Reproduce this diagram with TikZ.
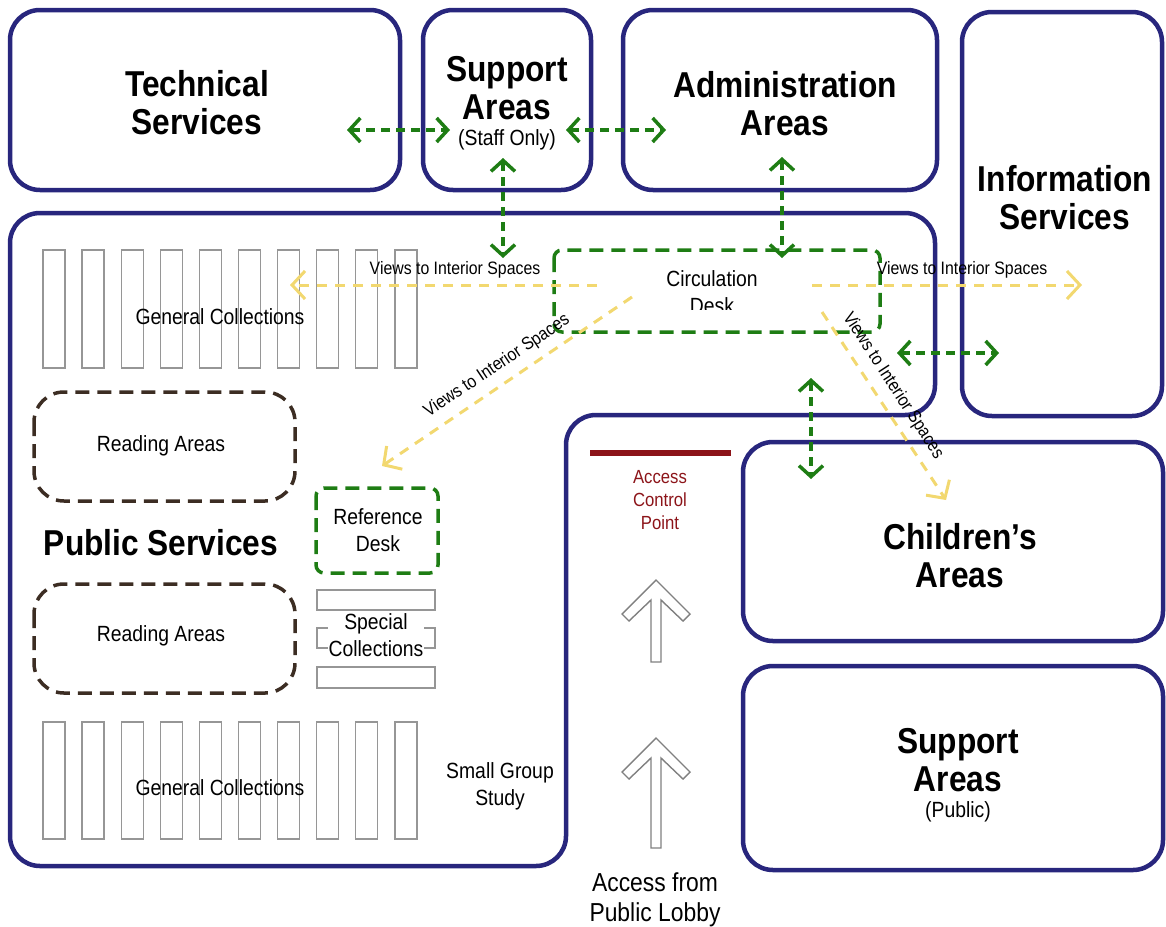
\documentclass[tikz,border=0pt]{standalone}
\usepackage{fontspec}
\setmainfont{Liberation Sans}[FakeStretch=0.88]
\usetikzlibrary{arrows.meta}
\definecolor{navy}{RGB}{40,38,125}
\definecolor{dgreen}{RGB}{30,125,20}
\definecolor{yel}{RGB}{242,216,112}
\definecolor{brn}{RGB}{60,45,35}
\definecolor{shelfgray}{RGB}{150,150,150}
\definecolor{dred}{RGB}{140,20,25}
\begin{document}
\begin{tikzpicture}[x=1pt,y=-1pt,
 zone/.style={draw=navy,line width=4.5pt,rounded corners=30pt},
 bigtxt/.style={font=\fontsize{36}{38}\selectfont\bfseries,align=center,inner sep=0pt},
 txt/.style={font=\fontsize{22}{27}\selectfont,align=center,inner sep=0pt},
 viewtxt/.style={font=\fontsize{18}{20}\selectfont,inner sep=0pt},
 shelf/.style={draw=shelfgray,line width=1.3pt},
 greenlink/.style={draw=dgreen,line width=3.5pt,dash pattern=on 9pt off 6pt,{Straight Barb[length=11pt,width=24pt]}-{Straight Barb[length=11pt,width=24pt]}},
 view/.style={draw=yel,line width=3pt,dash pattern=on 10pt off 8pt,-{Straight Barb[length=13pt,width=28pt]}},
 deskbox/.style={draw=dgreen,line width=3.5pt,dash pattern=on 14pt off 8pt,rounded corners=8pt},
 reading/.style={draw=brn,line width=3.5pt,dash pattern=on 14pt off 8pt,rounded corners=30pt},
 hollow/.style={draw=gray,line width=1.4pt,line join=miter},
 ]
\useasboundingbox (0,0) rectangle (1166,926);

% zones
\draw[zone] (10,10) rectangle (400,190);
\draw[zone] (423,10) rectangle (591,190);
\draw[zone] (623,10) rectangle (937,190);
\draw[zone] (962,12) rectangle (1162,416);
\draw[zone] (10,213) -- (935,213) -- (935,415) -- (566,415) -- (566,866) -- (10,866) -- cycle;
\draw[zone] (743,442) rectangle (1163,641);
\draw[zone] (743,666) rectangle (1163,870);

% shelves
\foreach \i in {0,...,9} {
  \draw[shelf] ({43+39.1*\i},250) rectangle ++(22,118);
  \draw[shelf] ({43+39.1*\i},722) rectangle ++(22,117);
}
\draw[shelf] (317,590) rectangle (435,610);
\draw[shelf] (317,628) rectangle (435,648);
\draw[shelf] (317,667) rectangle (435,688);

% dashed areas
\draw[reading] (34,392) rectangle (295,501);
\draw[reading] (34,584) rectangle (295,693);
\draw[deskbox] (316,488) rectangle (438,573);
\draw[deskbox] (554,250) rectangle (880,332);

% access control
\draw[dred,line width=6pt] (590,453) -- (731,453);
\draw[hollow] (656,580) -- (690,614) -- (683,621) -- (661,600) -- (661,662) -- (651,662) -- (651,600) -- (629,621) -- (622,614) -- cycle;
\draw[hollow] (656,738) -- (690,772) -- (683,779) -- (661,758) -- (661,848) -- (651,848) -- (651,758) -- (629,779) -- (622,772) -- cycle;

% texts
\node[bigtxt] (tech) at (197,103) {Technical\\Services};
\node[bigtxt] (sup) at (507,88) {Support\\Areas};
\node[txt] (staff) at (507,140) {(Staff Only)};
\node[bigtxt] (admin) at (785,104) {Administration\\Areas};
\node[bigtxt] (info) at (1065,198) {Information\\Services};
\node[bigtxt] (pub) at (161,543) {Public Services};
\node[bigtxt] (child) at (960,556) {Children’s\\Areas};
\node[bigtxt] (supp) at (958,760) {Support\\Areas};
\node[txt] (public) at (958,812) {(Public)};
\node[txt] (gc1) at (220,317) {General Collections};
\node[txt] (gc2) at (220,788) {General Collections};
\node[txt] (ra1) at (161,446) {Reading Areas};
\node[txt] (ra2) at (161,636) {Reading Areas};
\node[txt] (ref) at (378,530) {Reference\\Desk};
\node[txt,fill=white,inner sep=1pt] (spec) at (376,635) {Special\\Collections};
\node[txt] (sgs) at (500,786) {Small Group\\Study};
\node[txt,font=\fontsize{19}{23}\selectfont,text=dred] (acp) at (660,500) {Access\\Control\\Point};
\node[txt,font=\fontsize{26}{30}\selectfont] (lobby) at (655,900) {Access from\\Public Lobby};
\begin{scope}
\clip (600,255) rectangle (830,309);
\node[txt] (circ) at (712,292) {Circulation\\Desk};
\end{scope}

% views
\coordinate (v1s) at (597,285); \coordinate (v1e) at (290,285);
\coordinate (v2s) at (812,285); \coordinate (v2e) at (1082,285);
\coordinate (v3s) at (632,297); \coordinate (v3e) at (382,466);
\coordinate (v4s) at (822,312); \coordinate (v4e) at (946,500);
\draw[view] (v1s) -- (v1e);
\draw[view] (v2s) -- (v2e);
\draw[view] (v3s) -- (v3e);
\draw[view] (v4s) -- (v4e);
\node[viewtxt] (vt1) at (455,270) {Views to Interior Spaces};
\node[viewtxt] (vt2) at (962,270) {Views to Interior Spaces};
\node[viewtxt,rotate=33.7] (vt3) at (497,366) {Views to Interior Spaces};
\node[viewtxt,rotate=-57] (vt4) at (893,386) {Views to Interior Spaces};

% green links
\coordinate (g1a) at (347,130); \coordinate (g1b) at (450,130);
\coordinate (g2a) at (566,130); \coordinate (g2b) at (666,130);
\coordinate (g3a) at (503,158); \coordinate (g3b) at (503,258);
\coordinate (g4a) at (782,157); \coordinate (g4b) at (782,258);
\coordinate (g5a) at (897,353); \coordinate (g5b) at (999,353);
\coordinate (g6a) at (811,378); \coordinate (g6b) at (811,479);
\draw[greenlink] (g1a) -- (g1b);
\draw[greenlink] (g2a) -- (g2b);
\draw[greenlink] (g3a) -- (g3b);
\draw[greenlink] (g4a) -- (g4b);
\draw[greenlink] (g5a) -- (g5b);
\draw[greenlink] (g6a) -- (g6b);
\end{tikzpicture}
\end{document}
